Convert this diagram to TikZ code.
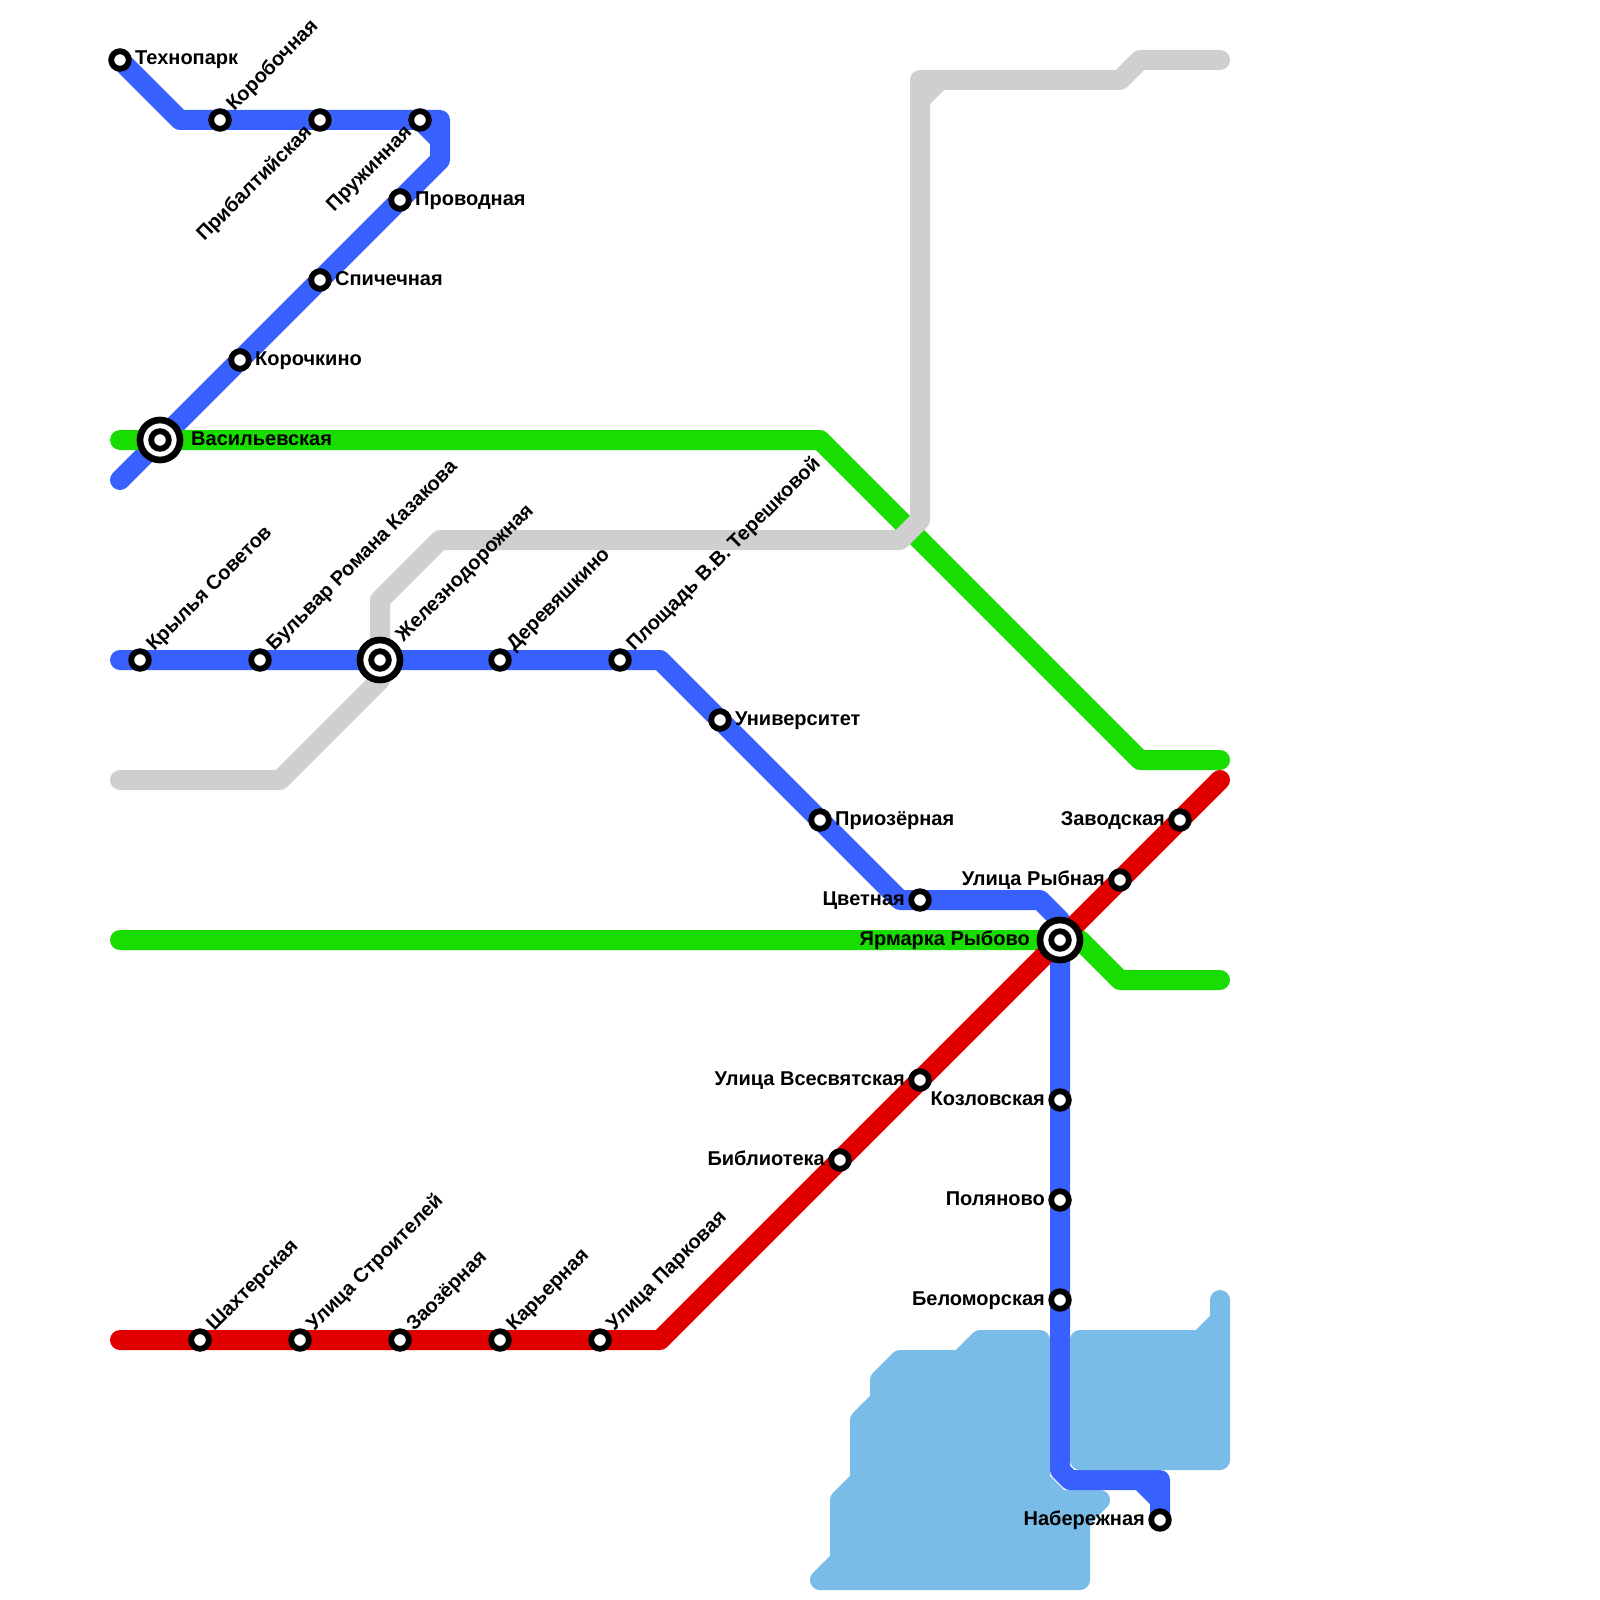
\documentclass[tikz,border=0pt]{standalone}
\usepackage{fontspec}
\setmainfont{Liberation Sans}
\usepackage{xcolor}
\usepackage{tikz}
\usetikzlibrary{backgrounds,calc}
\definecolor{lineblue}{HTML}{3860FF}
\definecolor{linegreen}{HTML}{19DC00}
\definecolor{linered}{HTML}{E10000}
\definecolor{linegray}{HTML}{CFCFCF}
\definecolor{water}{HTML}{79BCE8}

\begin{document}
\begin{tikzpicture}[
  x=1pt, y=-1pt,
  stn/.style   ={circle, draw=black, fill=white, line width=5.8pt, minimum size=17.6pt, inner sep=0pt},
  hub/.style   ={circle, draw=black, fill=white, line width=6.7pt, minimum size=40pt, inner sep=0pt},
  lbl/.style   ={font=\fontsize{20}{20}\selectfont\bfseries, inner sep=0pt},
  rlbl/.style  ={lbl, anchor=base west, xshift=15pt, yshift=-5pt},
  llbl/.style  ={lbl, anchor=base east, xshift=-15pt, yshift=-5pt},
  uplbl/.style ={lbl, anchor=base west, rotate=45, xshift=15.8pt, yshift=-4.3pt},
  dnlbl/.style ={lbl, anchor=base east, rotate=45, xshift=-14.5pt, yshift=-4.4pt},
  mline/.style ={line width=20pt, line cap=round, line join=round},
  blueline/.style ={mline, draw=lineblue},
  greenline/.style={mline, draw=linegreen},
  redline/.style  ={mline, draw=linered},
  grayline/.style ={mline, draw=linegray},
  pond/.style  ={fill=water, draw=water, line width=20pt, line join=round}
]
\useasboundingbox (0,0) rectangle (1600,1600);

% ---- upper blue branch ----
\node[stn] (tehnopark)  at (120,60)  {};
\node[stn] (korobochn)  at (220,120) {};
\node[stn] (pribalt)    at (320,120) {};
\node[stn] (pruzhin)    at (420,120) {};
\node[stn] (provodn)    at (400,200) {};
\node[stn] (spichechn)  at (320,280) {};
\node[stn] (korochkino) at (240,360) {};
\node[hub] (vasilHub)   at (160,440) {};
\node[stn] (vasil)      at (160,440) {};

% ---- middle blue line ----
\node[stn] (krylya)     at (140,660) {};
\node[stn] (bulvar)     at (260,660) {};
\node[hub] (zheldorHub) at (380,660) {};
\node[stn] (zheldor)    at (380,660) {};
\node[stn] (derevyash)  at (500,660) {};
\node[stn] (ploshchad)  at (620,660) {};
\node[stn] (univer)     at (720,720) {};
\node[stn] (priozern)   at (820,820) {};
\node[stn] (cvetnaya)   at (920,900) {};
\node[hub] (yarmarkaHub) at (1060,940) {};
\node[stn] (yarmarka)   at (1060,940) {};
\node[stn] (kozlov)     at (1060,1100) {};
\node[stn] (polyanovo)  at (1060,1200) {};
\node[stn] (belomor)    at (1060,1300) {};
\node[stn] (naberezh)   at (1160,1520) {};

% ---- red line ----
\node[stn] (shahter)    at (200,1340) {};
\node[stn] (stroitel)   at (300,1340) {};
\node[stn] (zaozern)    at (400,1340) {};
\node[stn] (karyern)    at (500,1340) {};
\node[stn] (parkov)     at (600,1340) {};
\node[stn] (bibl)       at (840,1160) {};
\node[stn] (vsesvyat)   at (920,1080) {};
\node[stn] (rybnaya)    at (1120,880) {};
\node[stn] (zavod)      at (1180,820) {};

% ---- labels ----
\node[rlbl]  (tehnoparkL)  at (tehnopark)  {Технопарк};
\node[uplbl] (korobochnL)  at (korobochn)  {Коробочная};
\node[dnlbl] (pribaltL)    at (pribalt)    {Прибалтийская};
\node[dnlbl] (pruzhinL)    at (pruzhin)    {Пружинная};
\node[rlbl]  (provodnL)    at (provodn)    {Проводная};
\node[rlbl]  (spichechnL)  at (spichechn)  {Спичечная};
\node[rlbl]  (korochkinoL) at (korochkino) {Корочкино};
\node[rlbl, xshift=16pt]   (vasilL)    at (vasil)     {Васильевская};
\node[uplbl] (krylyaL)     at (krylya)     {Крылья Советов};
\node[uplbl] (bulvarL)     at (bulvar)     {Бульвар Романа Казакова};
\node[uplbl, xshift=13pt]  (zheldorL)  at (zheldor)   {Железнодорожная};
\node[uplbl] (derevyashL)  at (derevyash)  {Деревяшкино};
\node[uplbl] (ploshchadL)  at (ploshchad)  {Площадь В.В. Терешковой};
\node[rlbl]  (univerL)     at (univer)     {Университет};
\node[rlbl]  (priozernL)   at (priozern)   {Приозёрная};
\node[llbl]  (cvetnayaL)   at (cvetnaya)   {Цветная};
\node[llbl, xshift=-15pt]  (yarmarkaL) at (yarmarka)  {Ярмарка Рыбово};
\node[llbl]  (kozlovL)     at (kozlov)     {Козловская};
\node[llbl]  (polyanovoL)  at (polyanovo)  {Поляново};
\node[llbl]  (belomorL)    at (belomor)    {Беломорская};
\node[llbl]  (naberezhL)   at (naberezh)   {Набережная};
\node[uplbl] (shahterL)    at (shahter)    {Шахтерская};
\node[uplbl] (stroitelL)   at (stroitel)   {Улица Строителей};
\node[uplbl] (zaozernL)    at (zaozern)    {Заозёрная};
\node[uplbl] (karyernL)    at (karyern)    {Карьерная};
\node[uplbl] (parkovL)     at (parkov)     {Улица Парковая};
\node[llbl]  (biblL)       at (bibl)       {Библиотека};
\node[llbl]  (vsesvyatL)   at (vsesvyat)   {Улица Всесвятская};
\node[llbl]  (rybnayaL)    at (rybnaya)    {Улица Рыбная};
\node[llbl]  (zavodL)      at (zavod)      {Заводская};

% ---- bends and line ends ----
\coordinate (bA) at (180,120);  \coordinate (bB) at (440,120);
\coordinate (bC) at (440,140);  \coordinate (bD) at (440,160);
\coordinate (bE) at (120,480);
\coordinate (mA) at (120,660);  \coordinate (mB) at (660,660);
\coordinate (mC) at (900,900);  \coordinate (mD) at (1040,900);
\coordinate (mE) at (1060,920); \coordinate (mF) at (1060,1470);
\coordinate (mG) at (1070,1480); \coordinate (mH) at (1140,1480);
\coordinate (mI) at (1160,1480); \coordinate (mJ) at (1160,1500);
\coordinate (gA) at (120,440);  \coordinate (gB) at (820,440);
\coordinate (gC) at (1140,760); \coordinate (gD) at (1220,760);
\coordinate (gE) at (120,940);  \coordinate (gF) at (1080,940);
\coordinate (gG) at (1120,980); \coordinate (gH) at (1220,980);
\coordinate (rA) at (120,1340); \coordinate (rB) at (660,1340);
\coordinate (rC) at (1220,780);
\coordinate (kA) at (120,780);  \coordinate (kB) at (280,780);
\coordinate (kM) at (380,680);
\coordinate (kC) at (380,600);  \coordinate (kD) at (440,540);
\coordinate (kE) at (900,540);  \coordinate (kF) at (920,520);
\coordinate (kG) at (920,100);  \coordinate (kH) at (920,80);
\coordinate (kI) at (940,80);   \coordinate (kJ) at (1120,80);
\coordinate (kK) at (1140,60);  \coordinate (kL) at (1220,60);

% ---- lines and water go under the stations ----
\begin{scope}[on background layer]
\draw[pond] (820,1580) -- (840,1560) -- (840,1500) -- (860,1480) -- (860,1420) -- (880,1400)
  -- (880,1380) -- (900,1360) -- (960,1360) -- (980,1340) -- (1040,1340) -- (1040,1480) -- (1060,1500)
  -- (1100,1500) -- (1080,1520) -- (1080,1580) -- cycle;

\draw[blueline] (tehnopark.center) -- (bA) -- (bB) -- (bD) -- (bE);
\draw[blueline] (pruzhin.center) -- (bC);
\draw[blueline] (mA) -- (mB) -- (mC) -- (mD) -- (mE) -- (mF) -- (mG) -- (mI) -- (naberezh.center);
\draw[blueline] (mH) -- (mJ);

\draw[greenline] (gA) -- (gB) -- (gC) -- (gD);
\draw[greenline] (gE) -- (gF) -- (gG) -- (gH);

\draw[grayline] (kA) -- (kB) -- (kM) -- (kC) -- (kD) -- (kE) -- (kF) -- (kH) -- (kJ) -- (kK) -- (kL);
\draw[grayline] (kG) -- (kI);

\draw[redline] (rA) -- (rB) -- (rC);

% right pond lies over the blue bend
\draw[pond] (1080,1340) -- (1200,1340) -- (1220,1320) -- (1220,1300) -- (1220,1460) -- (1080,1460) -- cycle;
\end{scope}

\end{tikzpicture}
\end{document}
